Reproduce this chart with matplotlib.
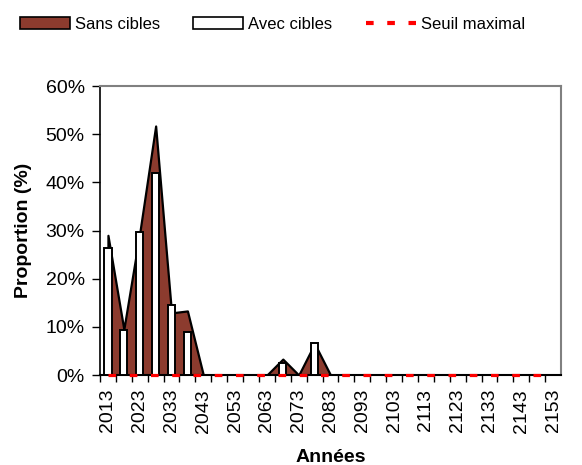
import matplotlib.pyplot as plt
from matplotlib.patches import Patch
from matplotlib.lines import Line2D
import numpy as np

plt.rcParams['font.family'] = ['Liberation Sans', 'DejaVu Sans']
plt.rcParams['lines.scale_dashes'] = False

# categories: every 5 years, label every 10
years = [2013, 2018, 2023, 2028, 2033, 2038, 2043, 2048, 2053, 2058,
         2063, 2068, 2073, 2078, 2083, 2088, 2093, 2098, 2103, 2108,
         2113, 2118, 2123, 2128, 2133, 2138, 2143, 2148, 2153]

sans_cibles = [29.0, 9.5, 29.5, 51.7, 12.9, 13.3, 0, 0, 0, 0,
               0, 3.3, 0, 6.5, 0, 0, 0, 0, 0, 0,
               0, 0, 0, 0, 0, 0, 0, 0, 0]
avec_cibles = [26.3, 9.3, 29.7, 42.0, 14.5, 8.9, 0, 0, 0, 0,
               0, 2.4, 0, 6.6, 0, 0, 0, 0, 0, 0,
               0, 0, 0, 0, 0, 0, 0, 0, 0]
seuil_max = [0, 0, 0, 0, 0, 0, 0, 0, 0, 0,
             0, 0, 0, 0, 0, 0, 0, 0, 0, 0,
             0, 0, 0, 0, 0, 0, 0, 0, 0]

brown = '#8C3B2E'
x = np.arange(len(years))

fig = plt.figure(figsize=(5.82, 4.65), dpi=100)
ax = fig.add_axes([100 / 582, 90 / 465, 461 / 582, 289 / 465])

ax.fill_between(x, sans_cibles, 0, facecolor=brown, edgecolor='black', linewidth=1.6, zorder=2)
ax.bar(x, avec_cibles, width=0.45, color='white', edgecolor='black', linewidth=1.4, zorder=3)
ax.plot(x, seuil_max, color='red', linewidth=2.3, dashes=(5.5, 9.8), zorder=5, clip_on=False)

ax.set_xlim(-0.5, len(years) - 0.5)
ax.set_ylim(0, 60)
ax.set_yticks(range(0, 61, 10))
ax.set_yticklabels([f'{v}%' for v in range(0, 61, 10)], fontsize=14)

ax.set_xticks(x[::2])
ax.set_xticklabels([str(y) for y in years[::2]], rotation=90, fontsize=14)
ax.set_xticks(x - 0.5, minor=True)
ax.tick_params(axis='x', which='major', length=0, pad=10)
ax.tick_params(axis='x', which='minor', length=5, width=1, direction='out')
ax.tick_params(axis='y', length=6, width=1, direction='out', pad=5)

for side in ['top', 'right']:
    ax.spines[side].set_color('#808080')
    ax.spines[side].set_linewidth(1.5)
ax.spines['left'].set_linewidth(1.2)
ax.spines['bottom'].set_linewidth(1.5)

ax.set_ylabel('Proportion (%)', fontsize=14, fontweight='bold', labelpad=10)
ax.set_xlabel('Années', fontsize=14, fontweight='bold', labelpad=12)

handles = [Patch(facecolor=brown, edgecolor='black', linewidth=1.2),
           Patch(facecolor='white', edgecolor='black', linewidth=1.2),
           Line2D([0], [0], color='red', linewidth=3, dashes=(5.5, 9.8))]
fig.legend(handles, ['Sans cibles', 'Avec cibles', 'Seuil maximal'],
           loc='upper left', bbox_to_anchor=(13 / 582, 1 - 10 / 465), ncol=3,
           frameon=False, fontsize=12, handlelength=3.0, handletextpad=0.3,
           columnspacing=2.0, borderaxespad=0)

fig.savefig('out.png', dpi=100)
